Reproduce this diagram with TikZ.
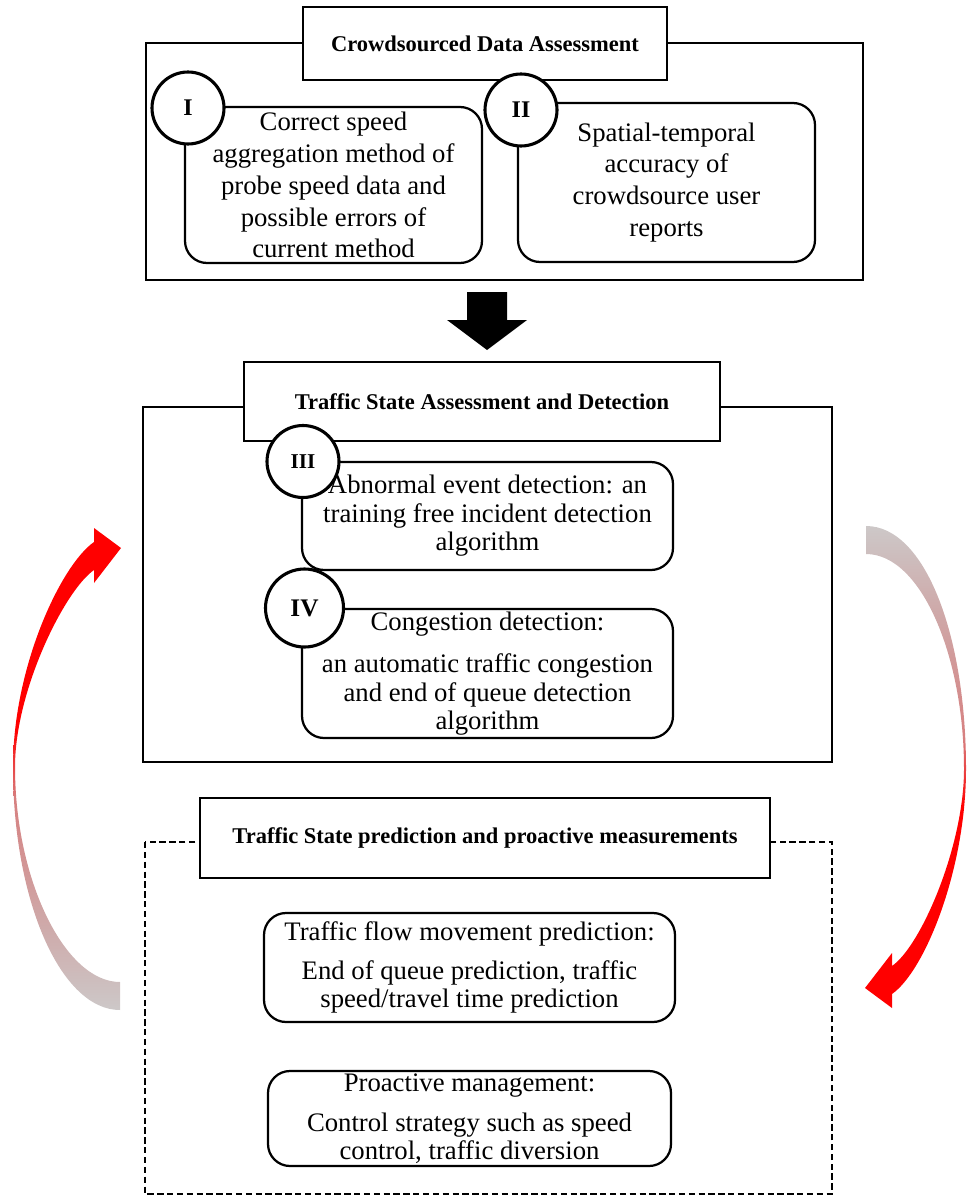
\documentclass[tikz,border=0pt]{standalone}
\usepackage{fontspec}
\setmainfont{Liberation Serif}
\usepackage{tikz}
\usetikzlibrary{shapes,calc}
\definecolor{fadegray}{RGB}{205,200,200}
\definecolor{fadepink}{RGB}{206,172,172}
\definecolor{faderose}{RGB}{214,128,128}
\pgfdeclareverticalshading{loopfade}{100bp}{color(0bp)=(fadegray); color(25bp)=(fadegray); color(33bp)=(fadepink); color(47bp)=(faderose); color(54bp)=(red); color(100bp)=(red)}
\newcommand{\pxu}{0.025cm}

\begin{document}
\begin{tikzpicture}[x=0.025cm, y=-0.025cm,
	outer/.style={line width=1.6pt},
	title/.style={draw, line width=1.6pt, fill=white, inner sep=0pt, font=\fontsize{16}{19}\selectfont\bfseries},
	rbox/.style={draw, line width=1.6pt, rounded corners=0.55cm, align=center, inner sep=0pt, font=\fontsize{19}{22.7}\selectfont},
	tight/.style={font=\fontsize{19}{20.2}\selectfont},
	num/.style={circle, draw, line width=2.2pt, fill=white, minimum size=72*\pxu, inner sep=0pt, font=\fontsize{17}{20}\selectfont\bfseries},
	loop/.style={shading=loopfade, draw=none}]
	\useasboundingbox (0,0) rectangle (967,1196);
	\draw[outer] (146,43) rectangle (863,280);
	\draw[outer] (143,407) rectangle (832,762);
	\draw[outer, dash pattern=on 4.5pt off 2.5pt] (145,842) rectangle (832,1194);
	\node[title, minimum width=364*\pxu, minimum height=73*\pxu] (crowdT) at (485,43.5) {Crowdsourced Data Assessment};
	\node[title, minimum width=476*\pxu, minimum height=79*\pxu] (stateT) at (482,401.5) {Traffic State Assessment and Detection};
	\node[title, minimum width=570*\pxu, minimum height=80*\pxu] (predT) at (485,838) {Traffic State prediction and proactive measurements};
	\node[rbox, minimum width=297*\pxu, minimum height=156*\pxu] (speedB) at (333.5,185) {Correct speed\\aggregation method of\\probe speed data and\\possible errors of\\current method};
	\node[rbox, minimum width=297*\pxu, minimum height=159*\pxu] (reportB) at (666.5,182.5) {Spatial-temporal\\accuracy of\\crowdsource user\\reports};
	\node[rbox, tight, minimum width=371*\pxu, minimum height=108*\pxu] (eventB) at (487.5,516) {Abnormal event detection: an\\training free incident detection\\algorithm};
	\node[rbox, tight, minimum width=371*\pxu, minimum height=129*\pxu] (congB) at (487.5,673.5) {Congestion detection:\\[10pt]an automatic traffic congestion\\and end of queue detection\\algorithm};
	\node[rbox, tight, minimum width=411*\pxu, minimum height=109*\pxu] (flowB) at (469.5,967.5) {Traffic flow movement prediction:\\[7.6pt]End of queue prediction, traffic\\speed/travel time prediction};
	\node[rbox, tight, minimum width=403*\pxu, minimum height=95*\pxu] (manageB) at (469.5,1118.5) {Proactive management:\\[8.3pt]Control strategy such as speed\\control, traffic diversion};
	\node[num] (c1) at (188,108) {I};
	\node[num] (c2) at (521,110) {II};
	\node[num, font=\fontsize{15}{18}\selectfont\bfseries] (c3) at (303,461.5) {III};
	\node[num, minimum size=78*\pxu, font=\fontsize{18}{21}\selectfont\bfseries] (c4) at (304.5,608) {IV};
	\fill (467,292) -- (507,292) -- (507,320) -- (527,320) -- (487,350) -- (447,320) -- (467,320) -- cycle;
	\path[loop] (120,1010) .. controls (61,1010) and (13,901) .. (13,767)
		.. controls (13,667) and (61,565) .. (94,542) -- (94,528) -- (121,548) -- (94,583) -- (94,570)
		.. controls (65,590) and (15,690) .. (15,767)
		.. controls (15,880) and (65,982) .. (120,982) -- cycle;
	\path[loop, shading angle=180] (866,526) .. controls (925,526) and (966,635) .. (966,769)
		.. controls (966,869) and (925,971) .. (892,994) -- (892,1008) -- (865,988) -- (892,953) -- (892,966)
		.. controls (921,946) and (964,846) .. (964,769)
		.. controls (964,656) and (921,554) .. (866,554) -- cycle;
\end{tikzpicture}
\end{document}
